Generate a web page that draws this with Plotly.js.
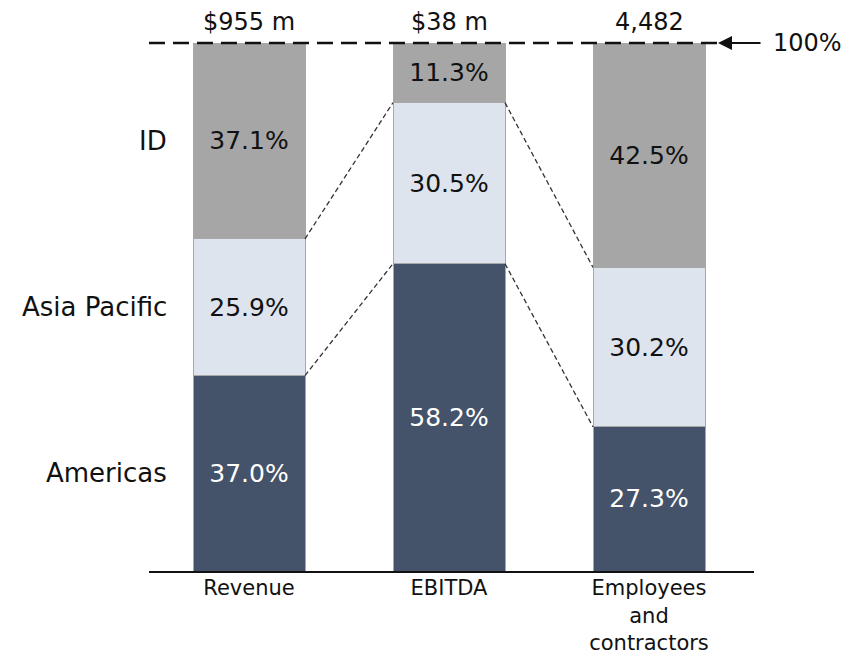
<!DOCTYPE html>
<html>
<head>
<meta charset="utf-8">
<script src="https://cdn.plot.ly/plotly-3.0.1.min.js"></script>
<style>html,body{margin:0;padding:0;background:#fff;}#chart{width:846px;height:659px;}</style>
</head>
<body>
<div id="chart"></div>
<script>
// ---- data ----
const categories = ["Revenue", "EBITDA", "Employees<br>and<br>contractors"];
const totals = ["$955 m", "$38 m", "4,482"];
const regions = ["Americas", "Asia Pacific", "ID"];
const americas = [37.0, 58.2, 27.3];
const asiaPacific = [25.9, 30.5, 30.2];
const idShare = [37.1, 11.3, 42.5];

// ---- styling ----
const FONT = "DejaVu Sans, Liberation Sans, Arial, sans-serif";
const colors = ["#44536A", "#DEE4EE", "#A6A6A6"];
const textColors = ["#FFFFFF", "#111111", "#111111"];
const BAR_W = 0.56;
const xs = categories.map((_, i) => i);
const series = [americas, asiaPacific, idShare];

const traces = series.map((vals, k) => ({
  type: "bar",
  x: xs,
  y: vals,
  name: regions[k],
  width: BAR_W,
  marker: { color: colors[k], line: { color: "#A8A8A8", width: 1 } },
  text: vals.map(v => v.toFixed(1) + "%"),
  textposition: "inside",
  insidetextanchor: "middle",
  textangle: 0,
  textfont: { family: FONT, size: 25, color: textColors[k] },
  hoverinfo: "skip",
  showlegend: false
}));

// cumulative boundaries for connectors
const cum1 = xs.map(i => americas[i]);
const cum2 = xs.map(i => americas[i] + asiaPacific[i]);
const shapes = [];
for (let i = 0; i < xs.length - 1; i++) {
  [cum1, cum2].forEach(c => {
    shapes.push({
      type: "line", xref: "x", yref: "y",
      x0: xs[i] + BAR_W / 2, y0: c[i],
      x1: xs[i + 1] - BAR_W / 2, y1: c[i + 1],
      line: { color: "#333333", width: 1.3, dash: "5px,3px" }
    });
  });
}
// 100% dashed reference line
shapes.push({
  type: "line", xref: "paper", yref: "paper",
  x0: 0, x1: 0.9405, y0: 1, y1: 1,
  line: { color: "#111111", width: 2.5, dash: "16px,8px" }
});

const annotations = [];
// totals above bars
totals.forEach((t, i) => annotations.push({
  xref: "x", yref: "paper", x: xs[i], y: 1.039, yanchor: "middle",
  text: t, showarrow: false, font: { family: FONT, size: 24, color: "#111" }
}));
// region labels to left of Revenue bar
const revMid = [americas[0] / 2, americas[0] + asiaPacific[0] / 2, americas[0] + asiaPacific[0] + idShare[0] / 2];
regions.forEach((r, k) => annotations.push({
  xref: "x", yref: "y", x: -0.4, y: revMid[k], xanchor: "right", yanchor: "middle",
  text: r, showarrow: false, font: { family: FONT, size: 26, color: "#111" }
}));
// arrow and 100% label
annotations.push({
  xref: "paper", yref: "paper", x: 0.9405, y: 1, ax: 44, ay: 0,
  text: "", showarrow: true, arrowhead: 2, arrowsize: 1.4, arrowwidth: 2, arrowcolor: "#111"
});
annotations.push({
  xref: "paper", yref: "paper", x: 1.089, y: 1, xanchor: "center", yanchor: "middle",
  text: "100%", showarrow: false, font: { family: FONT, size: 24, color: "#111" }
});

const layout = {
  width: 846, height: 659,
  margin: { l: 149, r: 92, t: 43, b: 88 },
  paper_bgcolor: "#fff", plot_bgcolor: "#fff",
  barmode: "stack",
  font: { family: FONT, color: "#111" },
  xaxis: {
    type: "linear", range: [-0.5, 2.525],
    tickvals: xs, ticktext: categories,
    showline: true, linecolor: "#111", linewidth: 2,
    showgrid: false, zeroline: false, ticks: "",
    ticklabelstandoff: -3,
    tickfont: { family: FONT, size: 21, color: "#111" },
    fixedrange: true
  },
  yaxis: { range: [0, 100], visible: false, fixedrange: true },
  shapes: shapes,
  annotations: annotations,
  showlegend: false
};

Plotly.newPlot("chart", traces, layout, { displayModeBar: false, staticPlot: true });
</script>
</body>
</html>
